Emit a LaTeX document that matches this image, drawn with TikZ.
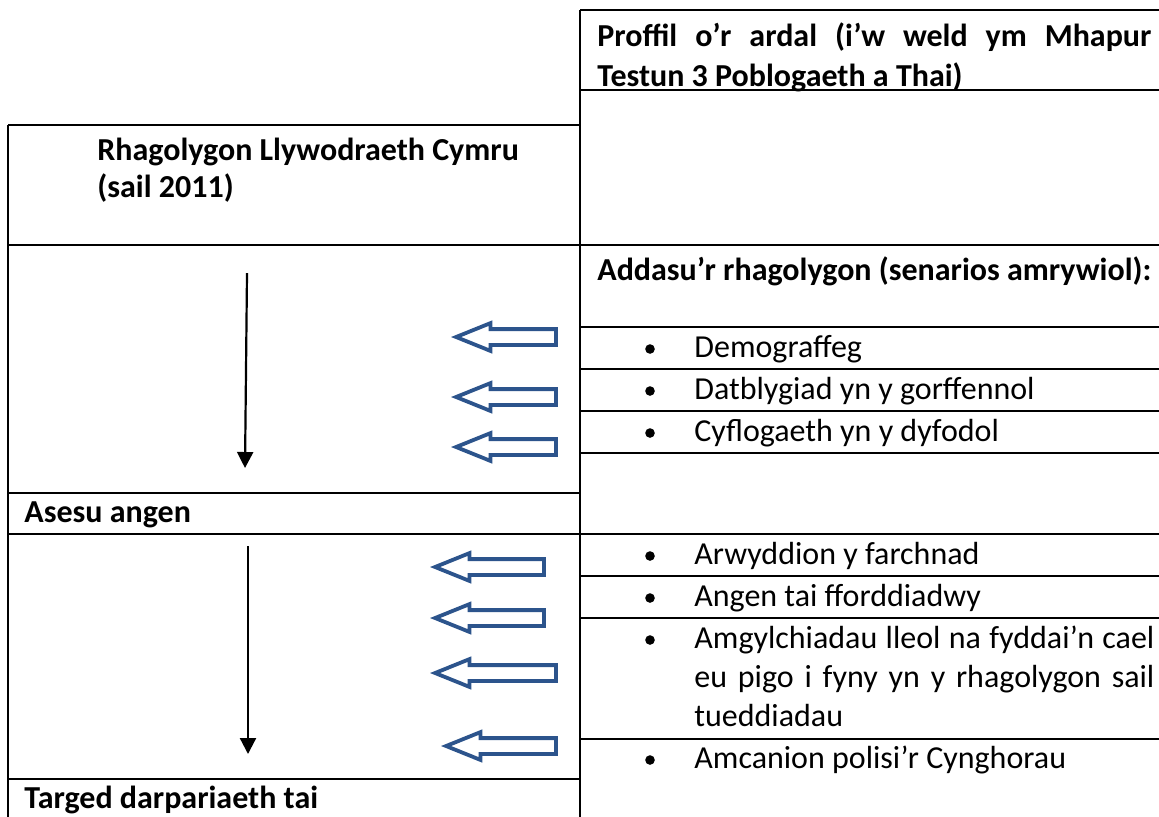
\documentclass[tikz,border=0pt]{standalone}
\usepackage{fontspec}
\setmainfont{Carlito}
\usepackage{tikz}
\usetikzlibrary{positioning,shapes.arrows,arrows.meta}
\usepackage{xcolor}
\definecolor{arrowblue}{RGB}{44,84,140}

\begin{document}
\begin{tikzpicture}[
    x=0.5pt, y=-0.5pt,
    rule/.style={line width=1.4pt, black},
    txt/.style={anchor=base west, inner sep=0pt, font=\fontsize{16}{20}\selectfont},
    bold/.style={txt, font=\fontsize{16}{20}\selectfont\bfseries},
    para/.style={anchor=base west, inner sep=0pt, align=left},
    dot/.style={circle, fill=black, inner sep=0pt, minimum size=4.8pt},
    hollow/.style={single arrow, draw=arrowblue, line width=1.9pt, fill=white,
        inner sep=0pt, inner ysep=3pt, single arrow head extend=3pt,
        single arrow tip angle=44, shape border rotate=180, anchor=tip},
    flow/.style={line width=1.1pt, -{Triangle[length=8pt,width=8pt]}}
]
\useasboundingbox (0,0) rectangle (1159,816);

% Table rules
\draw[rule] (580,10) -- (1159,10);
\draw[rule] (580,90) -- (1159,90);
\draw[rule] (8,125) -- (580,125);
\draw[rule] (8,245) -- (1159,245);
\draw[rule] (580,327) -- (1159,327);
\draw[rule] (580,369) -- (1159,369);
\draw[rule] (580,411) -- (1159,411);
\draw[rule] (580,453) -- (1159,453);
\draw[rule] (8,493) -- (580,493);
\draw[rule] (8,534) -- (1159,534);
\draw[rule] (580,576) -- (1159,576);
\draw[rule] (580,618) -- (1159,618);
\draw[rule] (580,739) -- (1159,739);
\draw[rule] (8,779) -- (580,779);
\draw[rule] (8,125) -- (8,820);
\draw[rule] (580,10) -- (580,820);

% Left column
\node[bold] (rhag) at (97,160) {Rhagolygon Llywodraeth Cymru};
\node[bold] (sail) at (97,197) {(sail 2011)};
\node[bold] (asesu) at (24,522) {Asesu angen};
\node[bold] (targed) at (24,808) {Targed darpariaeth tai};

% Right column
\node[para, text width=277pt, font=\fontsize{16}{20}\selectfont\bfseries]
    (proffil) at (597,46) {\spaceskip=0pt\relax
    \makebox[277pt][s]{Proffil o’r ardal (i’w weld ym Mhapur}\\
    Testun 3 Poblogaeth a Thai)};
\node[bold] (addasu) at (597,280) {Addasu’r rhagolygon (senarios amrywiol):};

\node[dot] (b1) at (650,349) {};
\node[txt] (demo) at (694,357) {Demograffeg};
\node[dot] (b2) at (650,391) {};
\node[txt] (datb) at (694,399) {Datblygiad yn y gorffennol};
\node[dot] (b3) at (650,433) {};
\node[txt] (cyfl) at (694,441) {Cyflogaeth yn y dyfodol};

\node[dot] (b4) at (650,556) {};
\node[txt] (arwy) at (694,564) {Arwyddion y farchnad};
\node[dot] (b5) at (650,598) {};
\node[txt] (angen) at (694,606) {Angen tai fforddiadwy};
\node[dot] (b6) at (650,640) {};
\node[para, text width=230pt, font=\fontsize{16}{19.5}\selectfont]
    (amgy) at (694,648) {\spaceskip=0pt\relax
    \makebox[230pt][s]{Amgylchiadau lleol na fyddai’n cael}\\
    \makebox[230pt][s]{eu pigo i fyny yn y rhagolygon sail}\\
    tueddiadau};
\node[dot] (b7) at (650,760) {};
\node[txt] (amca) at (694,768) {Amcanion polisi’r Cynghorau};

% Flow arrows
\coordinate (s1) at (247,273);
\coordinate (e1) at (245,468);
\coordinate (s2) at (248,546);
\coordinate (e2) at (248,754);
\draw[flow] (s1) -- (e1);
\draw[flow] (s2) -- (e2);

% Inputs
\node[hollow, minimum height=50pt] (h1) at (451,337) {};
\node[hollow, minimum height=50pt] (h2) at (451,397) {};
\node[hollow, minimum height=50pt] (h3) at (451,447) {};
\node[hollow, minimum height=54.5pt] (h4) at (430,567) {};
\node[hollow, minimum height=54.5pt] (h5) at (430,618) {};
\node[hollow, minimum height=60.5pt] (h6) at (430,673) {};
\node[hollow, minimum height=55pt] (h7) at (441,746) {};

\end{tikzpicture}
\end{document}
